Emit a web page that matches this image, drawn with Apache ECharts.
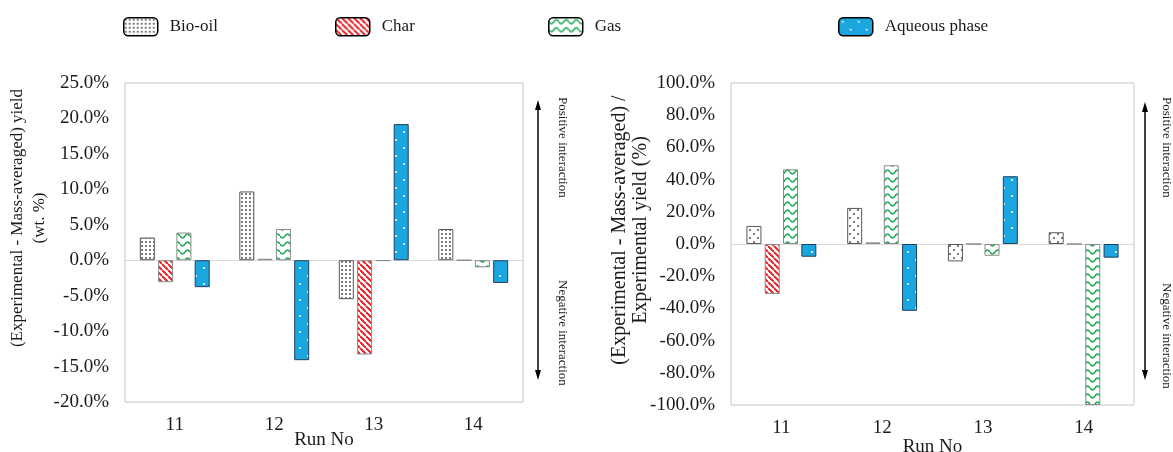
<!DOCTYPE html>
<html>
<head>
<meta charset="utf-8">
<script src="https://cdn.jsdelivr.net/npm/echarts@6.0.0/dist/echarts.min.js"></script>
<style>
html,body{margin:0;padding:0;background:#fff;}
#chart{width:1173px;height:452px;}
</style>
</head>
<body>
<div id="chart"></div>
<script>
// ---- data ----
const categories = ['11', '12', '13', '14'];
const seriesNames = ['Bio-oil', 'Char', 'Gas', 'Aqueous phase'];

// Left chart: (Experimental - Mass-averaged) yield, wt. %
const leftBioOil   = [3.2, 9.7, -5.5, 4.4];
const leftChar     = [-3.1, 0.2, -13.3, 0];
const leftGas      = [3.9, 4.4, -0.1, -1.0];
const leftAqueous  = [-3.8, -14.1, 19.2, -3.2];

// Right chart: (Experimental - Mass-averaged) / Experimental yield, %
const rightBioOil  = [11.2, 22.4, -10.8, 7.3];
const rightChar    = [-31.0, 1.0, 0, 0];
const rightGas     = [46.4, 48.9, -7.3, -100];
const rightAqueous = [-7.9, -41.5, 42.1, -8.5];

const leftTicks  = {min: -20, max: 25, interval: 5};
const rightTicks = {min: -100, max: 100, interval: 20};

// ---- patterns ----
function tile(w, h, draw) {
  const c = document.createElement('canvas');
  c.width = w; c.height = h;
  const ctx = c.getContext('2d');
  draw(ctx, w, h);
  return {image: c, repeat: 'repeat'};
}
function dotsPattern(size, pts, r, color, bg) {
  return tile(size, size, (ctx, w, h) => {
    ctx.fillStyle = bg; ctx.fillRect(0, 0, w, h);
    ctx.fillStyle = color;
    pts.forEach(p => { ctx.beginPath(); ctx.arc(p[0], p[1], r, 0, Math.PI * 2); ctx.fill(); });
  });
}
const bioDense = dotsPattern(4, [[2, 2]], 0.9, '#444', '#fff');
const bioSparse = dotsPattern(8, [[2, 2], [6, 6]], 0.95, '#444', '#fff');
const charPat = tile(6, 6, (ctx, w, h) => {
  ctx.fillStyle = '#fff'; ctx.fillRect(0, 0, w, h);
  ctx.strokeStyle = '#e8262a'; ctx.lineWidth = 1.6;
  for (let x = -6; x <= 12; x += 6) { ctx.beginPath(); ctx.moveTo(x - 6, 0); ctx.lineTo(x, 6); ctx.stroke(); }
  ctx.beginPath(); ctx.moveTo(-1, -1); ctx.lineTo(7, 7); ctx.stroke();
});
const gasPat = tile(10, 8, (ctx, w, h) => {
  ctx.fillStyle = '#fff'; ctx.fillRect(0, 0, w, h);
  ctx.strokeStyle = '#13a650'; ctx.lineWidth = 1.5;
  ctx.beginPath();
  for (let x = 0; x <= 10; x += 0.5) {
    const y = 4 + 2 * Math.sin(2 * Math.PI * x / 10);
    if (x === 0) ctx.moveTo(x, y); else ctx.lineTo(x, y);
  }
  ctx.stroke();
});
const aqPat = dotsPattern(16, [[4, 4], [12, 12]], 1.0, '#ffffff', '#1ca6df');

const fontFam = '"Liberation Serif", "Times New Roman", serif';

function makeSeries(idx, data, name, color, border) {
  return {
    name: name, type: 'bar', xAxisIndex: idx, yAxisIndex: idx,
    data: data, barWidth: 15, barGap: '22%',
    itemStyle: {color: color, borderColor: border, borderWidth: 1},
    emphasis: {disabled: true}
  };
}

function yAxis(idx, t) {
  return {
    type: 'value', gridIndex: idx, min: t.min, max: t.max, interval: t.interval,
    axisLine: {show: false}, axisTick: {show: false}, splitLine: {show: false},
    axisLabel: {margin: 16, color: '#1a1a1a', fontSize: 19, fontFamily: fontFam,
      formatter: v => v.toFixed(1) + '%'}
  };
}
function xAxisMain(idx, gap) {
  return {
    type: 'category', gridIndex: idx, data: categories, position: 'bottom',
    axisLine: {show: false, onZero: false}, axisTick: {show: false},
    axisLabel: {margin: 14, color: '#1a1a1a', fontSize: 19, fontFamily: fontFam},
    name: 'Run No', nameLocation: 'middle', nameGap: gap, nameMoveOverlap: false,
    nameTextStyle: {color: '#1a1a1a', fontSize: 19, fontFamily: fontFam, verticalAlign: 'middle'}
  };
}
function xAxisZero(idx) {
  return {
    type: 'category', gridIndex: idx, data: categories, position: 'bottom',
    axisLine: {show: true, onZero: true, lineStyle: {color: '#d9d9d9', width: 1}},
    axisTick: {show: false}, axisLabel: {show: false}
  };
}

function legendAt(name, left) {
  return {
    data: [name], left: left, top: 17, padding: 0, itemWidth: 34, itemHeight: 18,
    itemStyle: {borderColor: '#000', borderWidth: 1.5},
    textStyle: {fontSize: 17, fontFamily: fontFam, color: '#1a1a1a', padding: [0, 0, 0, 7]},
    selectedMode: false
  };
}

function arrow(x, y1, y2) {
  return [
    {type: 'line', shape: {x1: x, y1: y1 + 5, x2: x, y2: y2 - 5}, style: {stroke: '#000', lineWidth: 1.5}, silent: true},
    {type: 'polygon', shape: {points: [[x, y1], [x - 3, y1 + 10], [x + 3, y1 + 10]]}, style: {fill: '#000'}, silent: true},
    {type: 'polygon', shape: {points: [[x, y2], [x - 3, y2 - 10], [x + 3, y2 - 10]]}, style: {fill: '#000'}, silent: true}
  ];
}
function vText(text, x, y, rot, align, size, lh) {
  return {
    type: 'text', x: x, y: y, rotation: rot, silent: true,
    style: {text: text, fill: '#1a1a1a', font: size + 'px ' + fontFam, align: align,
      verticalAlign: 'middle', lineHeight: lh || size}
  };
}

const chart = echarts.init(document.getElementById('chart'), null, {renderer: 'canvas'});
chart.setOption({
  animation: false,
  backgroundColor: '#fff',
  legend: [
    legendAt('Bio-oil', 123), legendAt('Char', 335), legendAt('Gas', 548), legendAt('Aqueous phase', 838)
  ],
  grid: [
    {left: 125, top: 83, width: 398, height: 319, show: true, borderColor: '#c4c4c4', borderWidth: 1,
     backgroundColor: 'transparent', outerBoundsMode: 'none', containLabel: false},
    {left: 731, top: 83, width: 403, height: 322, show: true, borderColor: '#c4c4c4', borderWidth: 1,
     backgroundColor: 'transparent', outerBoundsMode: 'none', containLabel: false}
  ],
  xAxis: [xAxisMain(0, 38), xAxisMain(1, 42), xAxisZero(0), xAxisZero(1)],
  yAxis: [yAxis(0, leftTicks), yAxis(1, rightTicks)],
  series: [
    makeSeries(0, leftBioOil, seriesNames[0], bioDense, '#595959'),
    makeSeries(0, leftChar, seriesNames[1], charPat, '#8a8a8a'),
    makeSeries(0, leftGas, seriesNames[2], gasPat, '#8a8a8a'),
    makeSeries(0, leftAqueous, seriesNames[3], aqPat, '#1f3f5f'),
    makeSeries(1, rightBioOil, seriesNames[0], bioSparse, '#595959'),
    makeSeries(1, rightChar, seriesNames[1], charPat, '#8a8a8a'),
    makeSeries(1, rightGas, seriesNames[2], gasPat, '#8a8a8a'),
    makeSeries(1, rightAqueous, seriesNames[3], aqPat, '#1f3f5f')
  ],
  graphic: [].concat(
    arrow(538, 100, 380),
    arrow(1145, 102, 380),
    [
      vText('Positive interaction', 562, 97, -Math.PI / 2, 'left', 13),
      vText('Negative interaction', 562, 280, -Math.PI / 2, 'left', 13),
      vText('Positive interaction', 1166, 97, -Math.PI / 2, 'left', 13),
      vText('Negative interaction', 1166, 283, -Math.PI / 2, 'left', 13),
      vText('(Experimental - Mass-averaged) yield\n(wt. %)', 29, 218, Math.PI / 2, 'center', 17, 22),
      vText('(Experimental - Mass-averaged) /\nExperimental yield (%)', 630, 230, Math.PI / 2, 'center', 20, 21)
    ]
  )
});
</script>
</body>
</html>
